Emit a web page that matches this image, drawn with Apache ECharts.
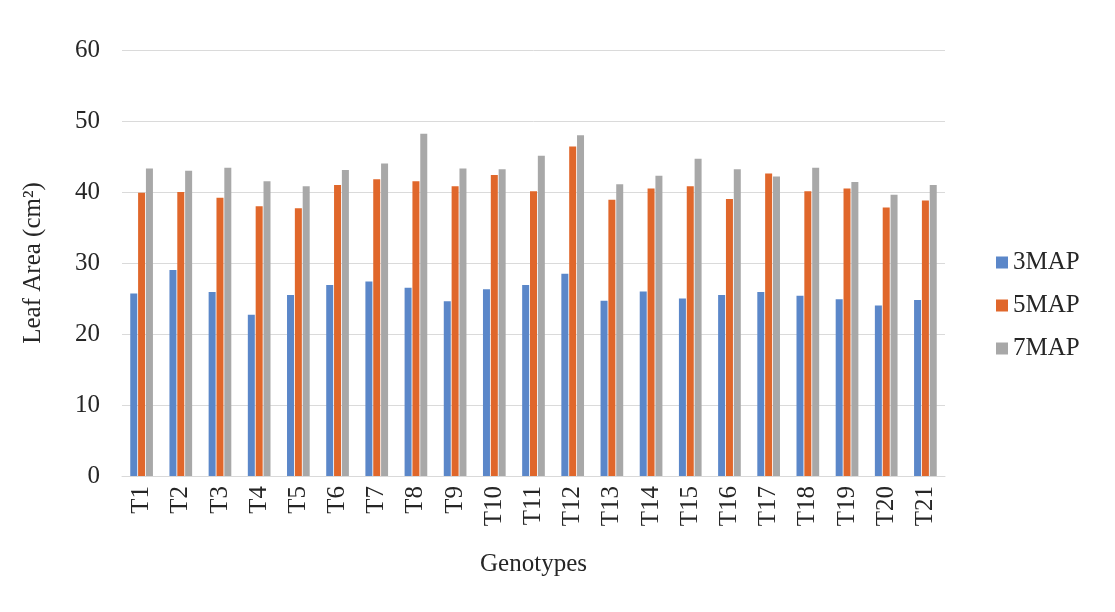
<!DOCTYPE html>
<html>
<head>
<meta charset="utf-8">
<script src="https://cdn.jsdelivr.net/npm/echarts@6/dist/echarts.min.js"></script>
<style>
  html, body { margin: 0; padding: 0; background: #ffffff; }
  #chart { width: 1115px; height: 612px; }
</style>
</head>
<body>
<div id="chart"></div>
<script>
// Leaf area per genotype at three, five and seven months after planting
const genotypes = ['T1','T2','T3','T4','T5','T6','T7','T8','T9','T10','T11','T12','T13','T14','T15','T16','T17','T18','T19','T20','T21'];
const map3 = [25.7, 29.0, 25.9, 22.7, 25.5, 26.9, 27.4, 26.5, 24.6, 26.3, 26.9, 28.5, 24.7, 26.0, 25.0, 25.5, 25.9, 25.4, 24.9, 24.0, 24.8];
const map5 = [39.9, 40.0, 39.2, 38.0, 37.7, 41.0, 41.8, 41.5, 40.8, 42.4, 40.1, 46.4, 38.9, 40.5, 40.8, 39.0, 42.6, 40.1, 40.5, 37.8, 38.8];
const map7 = [43.3, 43.0, 43.4, 41.5, 40.8, 43.1, 44.0, 48.2, 43.3, 43.2, 45.1, 48.0, 41.1, 42.3, 44.7, 43.2, 42.2, 43.4, 41.4, 39.6, 41.0];
const yTicks = { min: 0, max: 60, interval: 10 };

const serif = '"Liberation Serif", "DejaVu Serif", serif';
const textColor = '#262626';
const fontSize = 25;

const chart = echarts.init(document.getElementById('chart'));

function barSeries(name, data, color) {
  return {
    name: name,
    type: 'bar',
    data: data,
    barWidth: 7,
    barGap: '12%',
    itemStyle: { color: color },
    emphasis: { disabled: true }
  };
}

chart.setOption({
  animation: false,
  backgroundColor: '#ffffff',
  grid: { left: 122, right: 170, top: 50, bottom: 136 },
  legend: {
    orient: 'vertical',
    left: 991,
    top: 245,
    itemWidth: 12,
    itemHeight: 12,
    itemGap: 18,
    icon: 'rect',
    textStyle: { fontFamily: serif, fontSize: fontSize, color: textColor },
    data: ['3MAP', '5MAP', '7MAP']
  },
  xAxis: {
    type: 'category',
    data: genotypes,
    name: 'Genotypes',
    nameLocation: 'middle',
    nameGap: 76,
    nameTextStyle: { fontFamily: serif, fontSize: fontSize, color: textColor },
    axisLine: { show: true, lineStyle: { color: '#d9d9d9', width: 1 } },
    axisTick: { show: false },
    axisLabel: {
      rotate: 90,
      margin: 10,
      fontFamily: serif,
      fontSize: fontSize,
      color: textColor
    }
  },
  yAxis: {
    type: 'value',
    min: yTicks.min,
    max: yTicks.max,
    interval: yTicks.interval,
    name: 'Leaf Area (cm²)',
    nameLocation: 'middle',
    nameGap: 76,
    nameTextStyle: { fontFamily: serif, fontSize: fontSize, color: textColor },
    axisLine: { show: false },
    axisTick: { show: false },
    axisLabel: { margin: 22, fontFamily: serif, fontSize: fontSize, color: textColor },
    splitLine: { lineStyle: { color: '#dadada', width: 1 } }
  },
  series: [
    barSeries('3MAP', map3, '#5b87c9'),
    barSeries('5MAP', map5, '#e0672b'),
    barSeries('7MAP', map7, '#a8a8a8')
  ]
});
</script>
</body>
</html>
